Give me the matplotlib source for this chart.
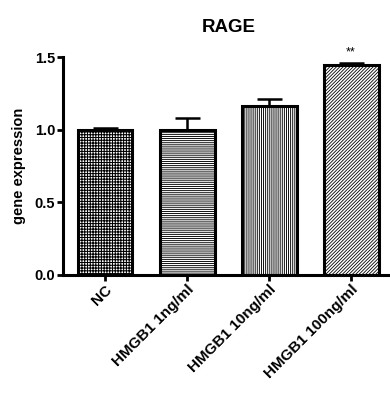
import matplotlib
matplotlib.use("Agg")
import matplotlib.pyplot as plt

plt.rcParams['font.family'] = ['Liberation Sans', 'DejaVu Sans']
plt.rcParams['font.weight'] = 'bold'

categories = ["NC", "HMGB1 1ng/ml", "HMGB1 10ng/ml", "HMGB1 100ng/ml"]
values = [1.0, 1.0, 1.165, 1.445]
errors = [0.012, 0.083, 0.048, 0.012]
hatches = ['++++++', '--------', '||||||||', '//////////']
hatch_lw = [0.75, 0.65, 0.65, 0.6]
yticks = [0.0, 0.5, 1.0, 1.5]
ytick_labels = ["0.0", "0.5", "1.0", "1.5"]
sig = ["", "", "", "**"]

fig = plt.figure(figsize=(3.90, 3.97), dpi=100)
ax = fig.add_axes([63/390, 1-275/397, (388-63)/390, (275-57)/397])

x = list(range(len(categories)))
for i in x:
    with plt.rc_context({'hatch.linewidth': hatch_lw[i], 'hatch.color': '#333333'}):
        ax.bar(i, values[i], width=0.67, facecolor='white', edgecolor='black',
               linewidth=2.2, hatch=hatches[i], zorder=2)
ax.errorbar(x, values, yerr=[[0]*len(errors), errors], fmt='none',
            ecolor='black', elinewidth=1.8, capsize=9, capthick=1.8, zorder=1)
for i in x:
    if sig[i]:
        ax.text(i, values[i] + errors[i] + 0.035, sig[i], ha='center', va='bottom',
                fontsize=9, fontweight='normal', clip_on=False)

ax.set_xlim(-0.512, 3.45)
ax.set_ylim(0, 1.5)
ax.set_yticks(yticks)
ax.set_yticklabels(ytick_labels, fontsize=10.5, fontweight='bold')
ax.set_xticks(x)
ax.set_xticklabels(categories, rotation=45, ha='right', rotation_mode='anchor',
                   fontsize=11, fontweight='bold')
for s in ['top', 'right']:
    ax.spines[s].set_visible(False)
for s in ['left', 'bottom']:
    ax.spines[s].set_linewidth(2.2)
ax.tick_params(axis='both', width=2, length=4, direction='out', pad=1.5)
ax.set_ylabel("gene expression", fontsize=10.5, fontweight='bold', labelpad=6)
ax.set_title("RAGE", fontsize=13.5, fontweight='bold', pad=18, x=0.51)

fig.savefig("out.png", dpi=100)
